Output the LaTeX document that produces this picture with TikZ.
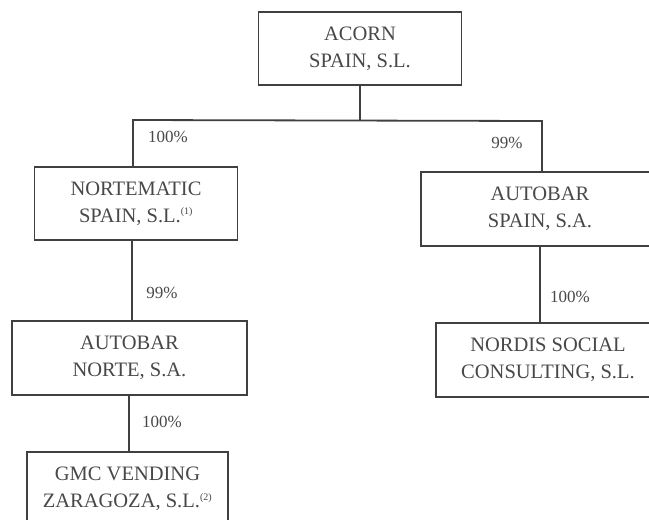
\documentclass[tikz,border=0pt]{standalone}
\usepackage{fontspec}
\setmainfont{Liberation Serif}
\definecolor{ink}{HTML}{404040}
\definecolor{txt}{HTML}{484848}
\tikzset{
  co/.style={draw=ink, line width=1.8pt, fill=white, align=center, text=txt,
    font=\fontsize{20.5}{27}\selectfont, inner sep=0pt},
  pct/.style={text=txt, font=\fontsize{17}{17}\selectfont, inner sep=0pt},
  link/.style={draw=ink, line width=1.8pt},
}
\newcommand{\fnm}[1]{\textsuperscript{\fontsize{10}{10}\selectfont(#1)}}
\begin{document}
\begin{tikzpicture}[x=1pt,y=-1pt]
\useasboundingbox[fill=white] (0,0) rectangle (649,520);
\node[co, minimum width=203pt, minimum height=73pt] (acorn) at (360,48.5) {ACORN\\SPAIN, S.L.};
\node[co, minimum width=203pt, minimum height=73pt] (nort) at (136,203.5) {NORTEMATIC\\SPAIN, S.L.\fnm{1}};
\node[co, minimum width=238pt, minimum height=74pt] (aspain) at (540,209) {AUTOBAR\\SPAIN, S.A.};
\node[co, minimum width=224pt, minimum height=74pt] (nordis) at (548,360) {NORDIS SOCIAL\\CONSULTING, S.L.};
\node[co, minimum width=235pt, minimum height=74pt] (anorte) at (129.5,358) {AUTOBAR\\NORTE, S.A.};
\node[co, minimum width=201pt, minimum height=74pt] (gmc) at (127.5,489) {GMC VENDING\\ZARAGOZA, S.L.\fnm{2}};
\coordinate (jl) at (133,120);
\coordinate (jr) at (542,121);
\coordinate (jm) at (132,300);
\coordinate (jb) at (129,420);
\draw[link] (acorn.south) -- (acorn.south |- jl);
\draw[link] (nort.north -| jl) -- (jl) -- (jr) -- (aspain.north -| jr);
\draw[link] (nort.south -| jm) -- (anorte.north -| jm);
\draw[link] (anorte.south -| jb) -- (gmc.north -| jb);
\draw[link] (aspain.south) -- (aspain.south |- nordis.north);
\node[pct] (p1) at (168,137) {100\%};
\node[pct] (p2) at (507,143) {99\%};
\node[pct] (p3) at (162,293) {99\%};
\node[pct] (p4) at (570,297) {100\%};
\node[pct] (p5) at (162,422) {100\%};
\end{tikzpicture}
\end{document}
